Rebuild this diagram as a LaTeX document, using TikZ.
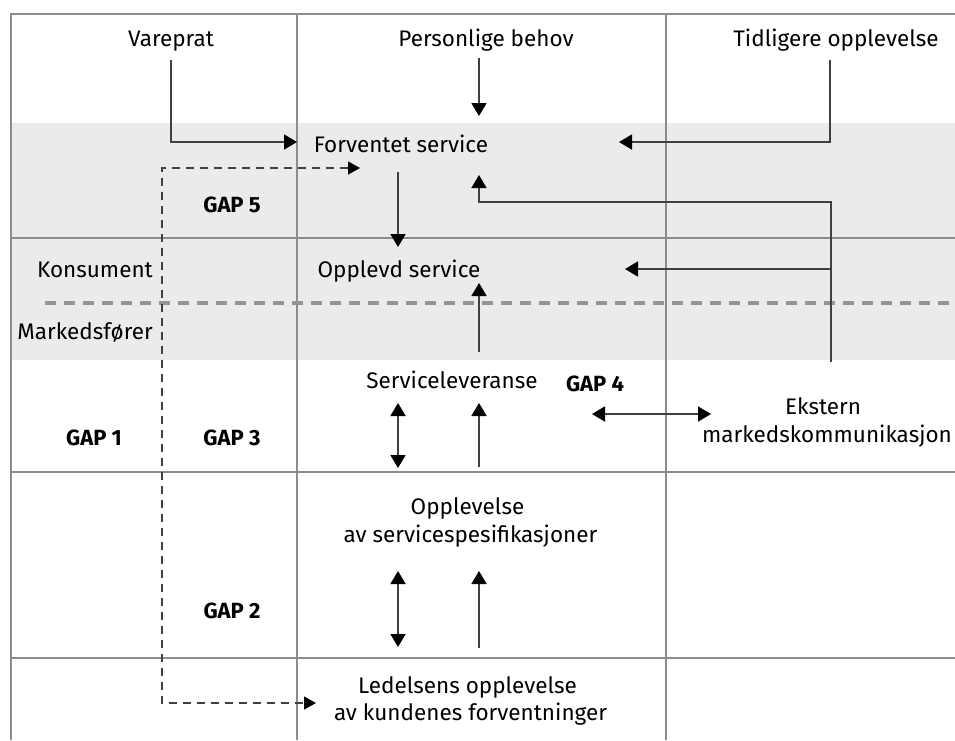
\documentclass[tikz,border=0pt]{standalone}
\usepackage{fontspec}
\setmainfont{Fira Sans}
\usetikzlibrary{arrows.meta,calc}
\begin{document}
\begin{tikzpicture}[x=1pt,y=-1pt,
  lbl/.style={font=\fontsize{22.5}{27}\selectfont, inner sep=0pt, anchor=base, text height=15pt, text depth=4pt},
  gaplbl/.style={lbl, font=\fontsize{22}{27}\selectfont\bfseries},
  gridline/.style={draw=black!45, line width=1.3pt},
  arr/.style={line width=1.8pt, draw=black!75, -{Triangle[length=13pt,width=15pt,color=black]}},
  darr/.style={line width=1.8pt, draw=black!75, {Triangle[length=13pt,width=15pt,color=black]}-{Triangle[length=13pt,width=15pt,color=black]}},
  thindash/.style={line width=1.3pt, draw=black!75, dash pattern=on 8pt off 6pt, {Triangle[length=12pt,width=13pt,color=black]}-{Triangle[length=12pt,width=13pt,color=black]}},
  thickdash/.style={line width=4.5pt, draw=black!42, dash pattern=on 11pt off 8pt}
]
\useasboundingbox (0,0) rectangle (955,740);
\fill[white] (0,0) rectangle (955,740);
% grey band
\fill[black!8] (11,123) rectangle (955,360);
% grid
\draw[gridline] (955,14) -- (11,14) -- (11,740);
\draw[gridline] (297,14) -- (297,740);
\draw[gridline] (666,14) -- (666,740);
\draw[gridline] (11,238) -- (955,238);
\draw[gridline] (11,472) -- (955,472);
\draw[gridline] (11,658) -- (955,658);
% thick dashed boundary
\draw[thickdash] (45,303) -- (955,303);

% labels
\node[lbl] (va) at (171,46) {Vareprat};
\node[lbl] (pb) at (486,46) {Personlige behov};
\node[lbl] (to) at (836,46) {Tidligere opplevelse};
\node[lbl] (fs) at (401,152) {Forventet service};
\node[lbl] (os) at (399,277) {Opplevd service};
\node[lbl,anchor=base east] (kon) at (153,277) {Konsument};
\node[lbl,anchor=base east] (mar) at (153,339) {Markedsfører};
\node[gaplbl] (g5) at (232,212) {GAP 5};
\node[gaplbl] (g1) at (94,445) {GAP 1};
\node[gaplbl] (g3) at (232,445) {GAP 3};
\node[gaplbl] (g2) at (232,618) {GAP 2};
\node[gaplbl] (g4) at (595,391) {GAP 4};
\node[lbl] (sl) at (452,388) {Serviceleveranse};
\node[lbl] (ek1) at (823,414) {Ekstern};
\node[lbl] (ek2) at (827,442) {markedskommunikasjon};
\node[lbl] (sp1) at (467.5,514) {Opplevelse};
\node[lbl] (sp2) at (470.5,542) {av servicespesifikasjoner};
\node[lbl] (le1) at (467.5,693) {Ledelsens opplevelse};
\node[lbl] (le2) at (470.5,720) {av kundenes forventninger};

% connectors
\draw[arr] ($(va.base)+(0,14)$) |- ($(fs.base)+(-104,-10)$);
\draw[arr] ($(pb.base)+(-7,12)$) -- ($(fs.base)+(78,-36)$);
\draw[arr] ($(to.base)+(-6,14)$) |- ($(fs.base)+(218,-10)$);
\draw[arr] ($(ek1.base)+(8,-52)$) |- ($(fs.base)+(78,50)$) -- ($(fs.base)+(78,23)$);
\draw[arr] ($(ek1.base)+(8,-145)$) -- ($(os.base)+(226,-8)$);
\draw[arr] ($(fs.base)+(-3,20)$) -- ($(os.base)+(-1,-30)$);
\draw[arr] ($(sl.base)+(27,-36)$) -- ($(os.base)+(80,6)$);
\draw[darr] ($(sl.base)+(-54,15)$) -- ($(sp1.base)+(-69.5,-46)$);
\draw[arr] ($(sp1.base)+(11.5,-47)$) -- ($(sl.base)+(27,15)$);
\draw[darr] ($(sp2.base)+(-72.5,29)$) -- ($(le1.base)+(-69.5,-46)$);
\draw[arr] ($(le1.base)+(11.5,-45)$) -- ($(sp2.base)+(8.5,29)$);
\draw[darr] ($(g4.base)+(-3,23)$) -- ($(ek1.base)+(-112,0)$);
\draw[thindash] ($(fs.base)+(-41,16)$) -| ($(le1.base)+(-305.5,10)$) -- ($(le1.base)+(-151.5,10)$);
\end{tikzpicture}
\end{document}
